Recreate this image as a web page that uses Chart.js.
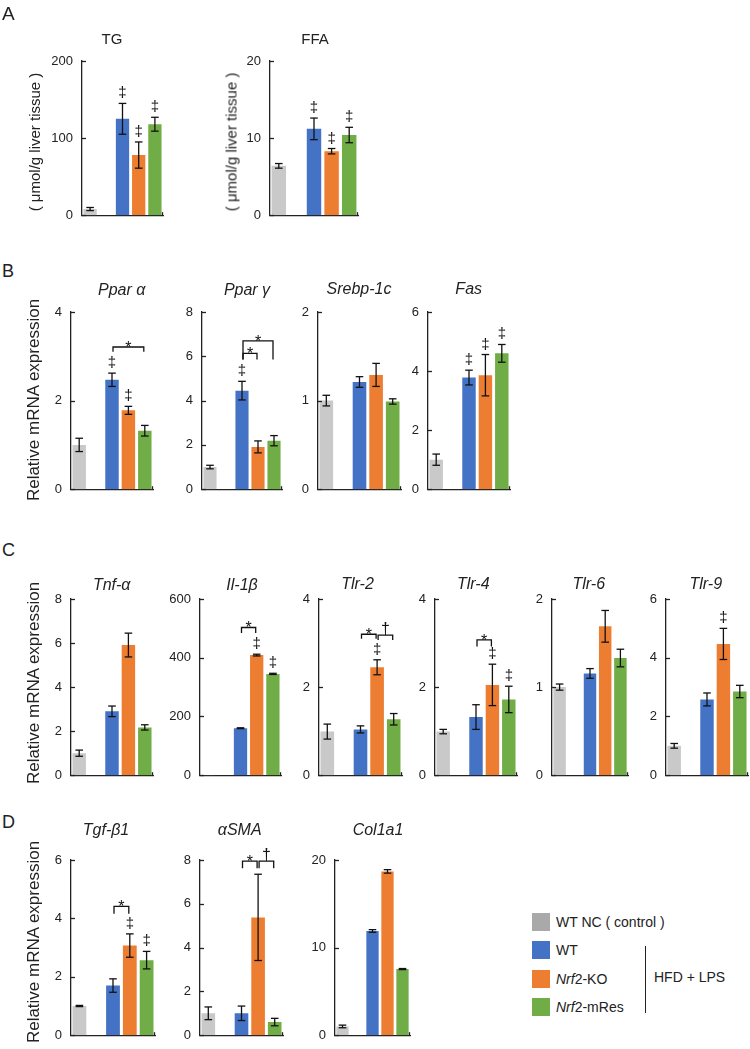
<!DOCTYPE html>
<html><head><meta charset="utf-8">
<script src="https://cdn.jsdelivr.net/npm/chart.js@4.4.1/dist/chart.umd.min.js"></script>
<style>
html,body{margin:0;padding:0;background:#fff;}
#fig{position:relative;width:750px;height:1049px;overflow:hidden;font-family:"Liberation Sans",Arial,sans-serif;color:#222;}
.t{position:absolute;white-space:nowrap;line-height:1;}
canvas{position:absolute;}
</style></head><body><div id="fig"></div>
<script>
// ---------- data ----------
const groups = ['WT NC ( control )', 'WT', 'Nrf2-KO', 'Nrf2-mRes'];
const tgMean = [8, 125, 78, 118],        tgErr = [2, 20, 17, 9];
const ffaMean = [6.4, 11.2, 8.3, 10.4],  ffaErr = [0.3, 1.4, 0.35, 1.0];
const pparAMean = [1.0, 2.47, 1.78, 1.32], pparAErr = [0.15, 0.15, 0.09, 0.12];
const pparGMean = [1.0, 4.45, 1.91, 2.19], pparGErr = [0.08, 0.42, 0.27, 0.23];
const srebpMean = [1.0, 1.21, 1.29, 0.99], srebpErr = [0.06, 0.06, 0.13, 0.03];
const fasMean = [1.0, 3.78, 3.86, 4.6],  fasErr = [0.19, 0.25, 0.7, 0.3];
const tnfMean = [1.0, 2.9, 5.91, 2.17],  tnfErr = [0.14, 0.24, 0.54, 0.12];
const il1bMean = [1, 160, 409, 345],     il1bErr = [0, 1.5, 3, 2];
const tlr2Mean = [0.99, 1.04, 2.45, 1.27], tlr2Err = [0.17, 0.08, 0.17, 0.13];
const tlr4Mean = [0.99, 1.32, 2.05, 1.72], tlr4Err = [0.05, 0.28, 0.47, 0.3];
const tlr6Mean = [1.0, 1.155, 1.69, 1.33], tlr6Err = [0.035, 0.055, 0.18, 0.1];
const tlr9Mean = [1.0, 2.58, 4.47, 2.85], tlr9Err = [0.08, 0.22, 0.53, 0.21];
const tgfMean = [1.0, 1.7, 3.07, 2.57],  tgfErr = [0.02, 0.23, 0.4, 0.3];
const asmaMean = [1.0, 1.0, 5.38, 0.6],  asmaErr = [0.29, 0.33, 1.97, 0.17];
const colMean = [1.0, 11.9, 18.7, 7.55], colErr = [0.15, 0.15, 0.2, 0.06];
// axis maxima / steps
const axisMax  = {TG:200, FFA:20, PparA:4, PparG:8, Srebp:2, Fas:6, Tnf:8, Il1b:600, Tlr2:4, Tlr4:4, Tlr6:2, Tlr9:6, Tgf:6, aSMA:8, Col:20};
const axisStep = {TG:100, FFA:10, PparA:2, PparG:2, Srebp:1, Fas:2, Tnf:2, Il1b:200, Tlr2:2, Tlr4:2, Tlr6:1, Tlr9:2, Tgf:2, aSMA:2, Col:10};
// significance marks: group indices with ‡ ; brackets [groupA, groupB, level, endLevel, symbol]
const daggers = {TG:[1,2,3], FFA:[1,2,3], PparA:[1,2], PparG:[1], Fas:[1,2,3], Il1b:[2,3], Tlr2:[2], Tlr4:[2,3], Tlr9:[2], Tgf:[2,3]};
const brackets = {
  PparA:[[1,3,3.21,3.10,'*']],
  PparG:[[1,3,6.70,5.85,'*'],[1,2,6.13,5.85,'*']],
  Il1b:[[1,2,503,484,'*']],
  Tlr2:[[1,2,3.20,3.10,'*'],[2,3,3.18,3.07,'†']],
  Tlr4:[[1,2,3.07,2.92,'*']],
  Tgf:[[1,2,4.41,4.16,'*']],
  aSMA:[[1,2,7.95,7.62,'*'],[2,3,7.95,7.62,'†']]
};
const titles = {TG:'TG', FFA:'FFA', PparA:'Ppar α', PparG:'Ppar γ', Srebp:'Srebp-1c', Fas:'Fas', Tnf:'Tnf-α', Il1b:'Il-1β', Tlr2:'Tlr-2', Tlr4:'Tlr-4', Tlr6:'Tlr-6', Tlr9:'Tlr-9', Tgf:'Tgf-β1', aSMA:'αSMA', Col:'Col1a1'};
const series = {TG:[tgMean,tgErr], FFA:[ffaMean,ffaErr], PparA:[pparAMean,pparAErr], PparG:[pparGMean,pparGErr], Srebp:[srebpMean,srebpErr], Fas:[fasMean,fasErr], Tnf:[tnfMean,tnfErr], Il1b:[il1bMean,il1bErr], Tlr2:[tlr2Mean,tlr2Err], Tlr4:[tlr4Mean,tlr4Err], Tlr6:[tlr6Mean,tlr6Err], Tlr9:[tlr9Mean,tlr9Err], Tgf:[tgfMean,tgfErr], aSMA:[asmaMean,asmaErr], Col:[colMean,colErr]};

// ---------- layout / style ----------
const barColors = ['#c9c9c9', '#4472c4', '#ed7d31', '#70ad47'];
const legendColors = ['#a9a9a9', '#4472c4', '#ed7d31', '#70ad47'];
const FONT = '"Liberation Sans", Arial, sans-serif';
const layout = {
  TG:{x0:82,x1:163,top:61,bot:222,tx:112,ty:43.3,it:false},
  FFA:{x0:270,x1:358,top:61,bot:222,tx:315,ty:43.3,it:false},
  PparA:{x0:71,x1:153,top:312,bot:496,tx:121.7,ty:296},
  PparG:{x0:202,x1:282,top:312,bot:496,tx:247,ty:296},
  Srebp:{x0:318,x1:401,top:312,bot:496,tx:359,ty:295},
  Fas:{x0:428,x1:510,top:312,bot:496,tx:468.7,ty:295},
  Tnf:{x0:71,x1:153,top:599,bot:782,tx:111.7,ty:591},
  Il1b:{x0:200,x1:281,top:599,bot:782,tx:242,ty:591},
  Tlr2:{x0:319,x1:402,top:599,bot:782,tx:357.5,ty:590},
  Tlr4:{x0:435,x1:517,top:599,bot:782,tx:473.3,ty:590},
  Tlr6:{x0:552,x1:628,top:599,bot:782,tx:588.8,ty:590},
  Tlr9:{x0:666,x1:748,top:599,bot:782,tx:705.8,ty:590},
  Tgf:{x0:71,x1:155,top:860,bot:1042,tx:106,ty:836},
  aSMA:{x0:200,x1:283,top:860,bot:1042,tx:239.7,ty:836},
  Col:{x0:335,x1:410,top:860,bot:1042,tx:378,ty:836}
};
const YW = 50, PT = 40, PR = 4, PB = 10;

const fig = document.getElementById('fig');
function txt(html, x, baseY, fs, o = {}) {
  const d = document.createElement('div');
  d.className = 't'; d.innerHTML = html; d.style.fontSize = fs + 'px';
  d.style.top = (baseY - 0.8465 * fs) + 'px';
  d.style.left = x + 'px';
  if (o.italic) d.style.fontStyle = 'italic';
  if (o.center) d.style.transform = 'translateX(-50%)';
  fig.appendChild(d); return d;
}
function vtxt(str, cx, cy, fs) {
  const d = document.createElement('div');
  d.className = 't'; d.textContent = str; d.style.fontSize = fs + 'px';
  d.style.left = cx + 'px'; d.style.top = cy + 'px';
  d.style.transform = 'translate(-50%,-50%) rotate(-90deg)';
  fig.appendChild(d);
}
function box(x, y, w, h, bg) {
  const d = document.createElement('div');
  d.style.cssText = `position:absolute;left:${x}px;top:${y}px;width:${w}px;height:${h}px;background:${bg};`;
  fig.appendChild(d);
}

const catIdx = g => g === 0 ? 0 : g + 1;

const errPlugin = {
  id: 'errbars',
  afterDatasetsDraw(chart, args, opts) {
    const {ctx, scales: {x, y}} = chart;
    const meta = chart.getDatasetMeta(0);
    const cx = g => meta.data[catIdx(g)].x;
    ctx.save();
    ctx.strokeStyle = '#111'; ctx.lineWidth = 1.3; ctx.fillStyle = '#111';
    const ln = (a, b, c, d) => { ctx.beginPath(); ctx.moveTo(a, b); ctx.lineTo(c, d); ctx.stroke(); };
    opts.mean.forEach((v, g) => {
      const e = opts.err[g];
      if (!e) return;
      const px = cx(g);
      const yt = y.getPixelForValue(v + e), yb = y.getPixelForValue(Math.max(v - e, 0));
      ln(px, yt, px, yb); ln(px - 3.8, yt, px + 3.8, yt); ln(px - 3.8, yb, px + 3.8, yb);
    });
    // inward tick marks
    ctx.lineWidth = 1.3; ctx.strokeStyle = '#222';
    y.ticks.forEach(t => { const py = Math.round(y.getPixelForValue(t.value)) + 0.5; ln(x.left, py, x.left + 4, py); });
    ln(x.right - 0.5, y.bottom, x.right - 0.5, y.bottom - 3);
    // daggers
    ctx.fillStyle = '#111'; ctx.textAlign = 'center';
    ctx.font = '15px ' + FONT; ctx.textBaseline = 'alphabetic';
    (opts.dag || []).forEach(g => {
      const yt = y.getPixelForValue(opts.mean[g] + opts.err[g]);
      ctx.fillText('‡', cx(g), yt - 6);
    });
    // brackets
    ctx.strokeStyle = '#111'; ctx.lineWidth = 1.3;
    (opts.br || []).forEach(([a, b, lv, end, s]) => {
      const xa = cx(a) + 1, xb = cx(b) - 1;
      const yl = y.getPixelForValue(lv), ye = y.getPixelForValue(end);
      ctx.beginPath(); ctx.moveTo(xa, ye); ctx.lineTo(xa, yl); ctx.lineTo(xb, yl); ctx.lineTo(xb, ye); ctx.stroke();
      ctx.font = '16px ' + FONT;
      ctx.fillText(s, (xa + xb) / 2, s === '*' ? yl + 6 : yl - 1);
    });
    ctx.restore();
  }
};

Object.keys(layout).forEach(k => {
  const L = layout[k];
  const [mean, err] = series[k];
  const c = document.createElement('canvas');
  const w = YW + (L.x1 - L.x0) + PR, h = PT + (L.bot - L.top) + PB;
  c.width = w; c.height = h;
  c.style.left = (L.x0 - YW) + 'px'; c.style.top = (L.top - PT) + 'px';
  c.style.width = w + 'px'; c.style.height = h + 'px';
  fig.appendChild(c);
  new Chart(c, {
    type: 'bar',
    data: {
      labels: [groups[0], '', groups[1], groups[2], groups[3]],
      datasets: [{
        data: [mean[0], null, mean[1], mean[2], mean[3]],
        backgroundColor: [barColors[0], 'rgba(0,0,0,0)', barColors[1], barColors[2], barColors[3]],
        borderWidth: 0, barPercentage: 0.82, categoryPercentage: 1
      }]
    },
    options: {
      responsive: false, animation: false, devicePixelRatio: 1,
      layout: {padding: {left: 0, right: PR, top: PT, bottom: PB}},
      plugins: {legend: {display: false}, tooltip: {enabled: false}, title: {display: false},
        errbars: {mean, err, dag: daggers[k], br: brackets[k]}},
      scales: {
        x: {grid: {display: false, drawTicks: false}, ticks: {display: false},
            border: {display: true, color: '#222', width: 1.3}, afterFit(s) { s.height = 0; }},
        y: {min: 0, max: axisMax[k], ticks: {stepSize: axisStep[k], color: '#222', padding: 9, font: {size: 13, family: FONT}},
            grid: {display: false, drawTicks: false}, border: {display: true, color: '#222', width: 1.3},
            afterFit(s) { s.width = YW; }}
      }
    },
    plugins: [errPlugin]
  });
  txt(titles[k], L.tx, L.ty, L.it === false ? 15 : 16, {center: true, italic: L.it !== false});
});

// panel letters
txt('A', 2, 20.3, 19); txt('B', 2, 277, 18); txt('C', 2, 556, 18); txt('D', 2, 828, 18);
// y-axis labels
vtxt('( μmol/g liver tissue )', 34, 141.5, 15);
vtxt('( μmol/g liver tissue )', 230.5, 141.5, 15);
vtxt('Relative mRNA expression', 33, 400, 17);
vtxt('Relative mRNA expression', 33, 683, 17);
vtxt('Relative mRNA expression', 33, 942, 17);
// legend
const legY = [913, 941, 970, 998];
const legLabels = ['WT NC ( control )', 'WT', '<i>Nrf</i>2-KO', '<i>Nrf</i>2-mRes'];
legY.forEach((yy, i) => { box(532, yy, 18, 18, legendColors[i]); txt(legLabels[i], 556, yy + 14, 14); });
box(645, 946, 1.3, 67, '#222');
txt('HFD + LPS', 654, 982, 14);
</script></body></html>
